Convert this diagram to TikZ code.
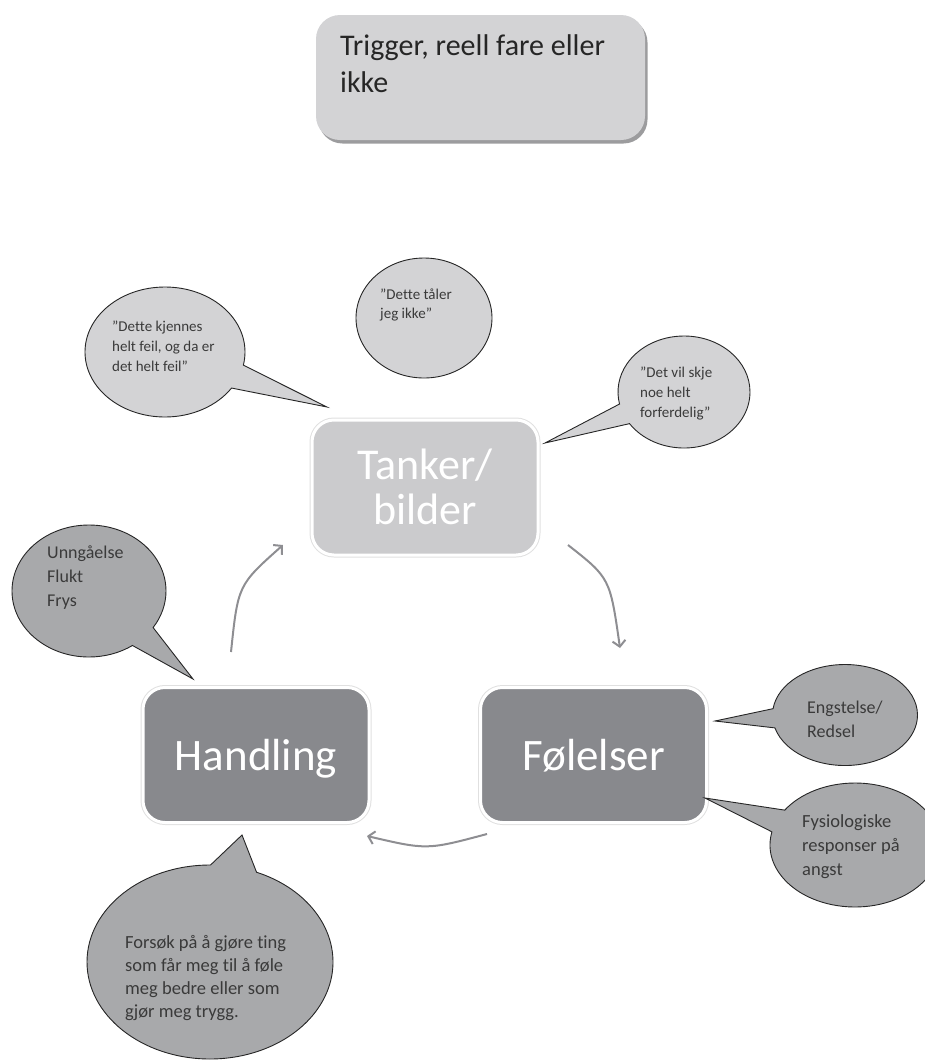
\documentclass[tikz,border=0pt]{standalone}
\usepackage{fontspec}
\setmainfont{Carlito}[Ligatures=NoCommon]
\usetikzlibrary{shapes.callouts,shapes.geometric,arrows.meta}
\definecolor{lightfill}{HTML}{D3D3D5}
\definecolor{tankfill}{HTML}{CBCBCD}
\definecolor{darkfill}{HTML}{88898D}
\definecolor{bubdark}{HTML}{A8A9AB}
\definecolor{txt}{HTML}{3A3A3A}
\definecolor{arrowc}{HTML}{8E8E92}
\definecolor{shadowc}{HTML}{9C9C9E}
\begin{document}
\begin{tikzpicture}[x=1pt,y=-1pt,
  mainbox/.style={rounded corners=22pt, minimum width=226pt, minimum height=135pt, inner sep=0pt, draw=white, line width=3pt, preaction={draw=black!12, line width=5pt}},
  bub/.style={ellipse callout, draw=black!85, line width=0.9pt, inner sep=0pt, callout pointer arc=22},
  plainbub/.style={ellipse, draw=black!85, line width=0.9pt, inner sep=0pt},
  btext/.style={anchor=north west, inner sep=0pt, align=left, text=txt},
  flow/.style={draw=arrowc, line width=2pt, -{Straight Barb[length=6pt,width=13pt]}}
]
\useasboundingbox (0,0) rectangle (925,1061);
\clip (0,0) rectangle (925,1061);

% Trigger box
\node[fill=shadowc, rounded corners=24pt, minimum width=329pt, minimum height=125pt, inner sep=0pt] (trigshadow) at (483,81) {};
\node[fill=lightfill, rounded corners=24pt, minimum width=329pt, minimum height=125pt, inner sep=0pt] (trigger) at (480.5,77.5) {};
\node[anchor=north west, inner sep=0pt, align=left, font=\fontsize{30}{37}\selectfont, text=black!85] (trigtext) at (340,34) {Trigger, reell fare eller\\ikke};

% Main boxes
\node[mainbox, fill=tankfill] (tanker) at (425,487.5) {};
\node[mainbox, fill=darkfill] (handling) at (256,755) {};
\node[mainbox, fill=darkfill] (folelser) at (593.5,755) {};
\node[font=\fontsize{44}{45}\selectfont, text=white, align=center, anchor=north, inner sep=0pt] (tankertext) at (425,449) {Tanker/\\bilder};
\node[font=\fontsize{45}{54}\selectfont, text=white, anchor=base, inner sep=0pt] (handtext) at (256,770) {Handling};
\node[font=\fontsize{45}{54}\selectfont, text=white, anchor=base, inner sep=0pt] (foltext) at (593.5,770) {Følelser};

% Cycle arrows
\coordinate (a1s) at (568,545); \coordinate (a1e) at (620,648);
\coordinate (a2s) at (487,834); \coordinate (a2e) at (367,836);
\coordinate (a3s) at (231,652); \coordinate (a3e) at (283,545);
\draw[flow] (a1s) .. controls (610,578) .. (a1e);
\draw[flow] (a2s) .. controls (427,850) .. (a2e);
\draw[flow] (a3s) .. controls (238,585) .. (a3e);

% Bubble pointer tips
\coordinate (p1) at (327,407);
\coordinate (p3) at (545,443);
\coordinate (p4) at (193,679);
\coordinate (p5) at (715,721);
\coordinate (p6) at (705,798);
\coordinate (p7) at (242,835);

% Bubbles
\node[bub, fill=lightfill, minimum width=160pt, minimum height=130pt, callout absolute pointer={(p1)}] (b1) at (165,352) {};
\node[btext, font=\fontsize{15}{20}\selectfont] (t1) at (112,321) {”Dette kjennes\\helt feil, og da er\\det helt feil”};

\node[plainbub, fill=lightfill, minimum width=136pt, minimum height=120pt] (b2) at (424,318) {};
\node[btext, font=\fontsize{15}{19}\selectfont] (t2) at (380,289) {”Dette tåler\\jeg ikke”};

\node[bub, fill=lightfill, minimum width=132pt, minimum height=112pt, callout absolute pointer={(p3)}] (b3) at (684,392) {};
\node[btext, font=\fontsize{15}{20}\selectfont] (t3) at (640,367) {”Det vil skje\\noe helt\\forferdelig”};

\node[bub, fill=bubdark, minimum width=154pt, minimum height=132pt, callout absolute pointer={(p4)}] (b4) at (89,591) {};
\node[btext, font=\fontsize{18}{24}\selectfont] (t4) at (47,546) {Unngåelse\\Flukt\\Frys};

\node[bub, fill=bubdark, minimum width=145pt, minimum height=101pt, callout absolute pointer={(p5)}] (b5) at (845,715) {};
\node[btext, font=\fontsize{18}{24}\selectfont] (t5) at (807,701) {Engstelse/\\Redsel};

\node[bub, fill=bubdark, minimum width=170pt, minimum height=124pt, callout absolute pointer={(p6)}] (b6) at (855,845) {};
\node[btext, font=\fontsize{18.5}{24}\selectfont] (t6) at (802,814) {Fysiologiske\\responser på\\angst};

\node[bub, fill=bubdark, minimum width=246pt, minimum height=194pt, callout absolute pointer={(p7)}] (b7) at (210,962) {};
\node[btext, font=\fontsize{18.5}{23}\selectfont] (t7) at (125,935) {Forsøk på å gjøre ting\\som får meg til å føle\\meg bedre eller som\\gjør meg trygg.};
\end{tikzpicture}
\end{document}
